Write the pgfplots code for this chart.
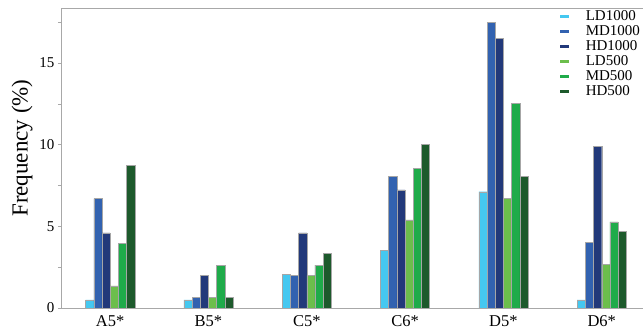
\documentclass[border=0pt]{standalone}
\usepackage{pgfplots}
\pgfplotsset{compat=1.18}
\usepackage{fontspec}
\setmainfont{Liberation Serif}
\definecolor{cLDa}{HTML}{45C8F0}
\definecolor{cMDa}{HTML}{3262B0}
\definecolor{cHDa}{HTML}{22397A}
\definecolor{cLDb}{HTML}{6CBE4C}
\definecolor{cMDb}{HTML}{1FAB4A}
\definecolor{cHDb}{HTML}{1D5A2C}
\definecolor{axgray}{HTML}{A8A8A8}
\begin{document}
\begin{tikzpicture}
\begin{axis}[
  scale only axis, width=582pt, height=300pt,
  at={(0,0)}, anchor=south west,
  xmin=-0.5, xmax=5.42, ymin=0, ymax=18.37,
  axis x line*=bottom, axis y line*=left,
  axis line style={axgray, line width=0.8pt},
  ybar, bar width=8.2pt,
  xtick={0,1,2,3,4,5},
  xticklabels={A5*,B5*,C5*,C6*,D5*,D6*},
  x tick style={draw=none},
  ytick={0,5,10,15}, minor ytick={2.5,7.5,12.5,17.5},
  y tick style={axgray, line width=0.6pt},
  tick align=outside, major tick length=3pt, minor tick length=3pt,
  /pgf/number format/assume math mode=true,
  ticklabel style={font=\fontsize{15}{15}\selectfont},
  xticklabel style={font=\fontsize{16.5}{16.5}\selectfont, yshift=-1pt},
  ylabel={Frequency (\%)},
  ylabel style={font=\fontsize{23}{23}\selectfont, at={(ticklabel cs:0.533)}},
  legend style={at={(rel axis cs:0.855,0.997)}, anchor=north west, draw=none, fill=none,
    inner sep=0pt,
    nodes={font=\fontsize{15}{15}\selectfont, inner sep=0pt, text height=11pt, text depth=4pt, anchor=west},
    /tikz/every odd column/.append style={column sep=15pt}},
  legend image code/.code={\draw[line width=3pt, #1] (0pt,0pt) -- (9pt,0pt);},
  legend cell align=left,
  after end axis/.code={\draw[axgray, line width=0.8pt] (rel axis cs:0,1) -- (rel axis cs:1,1);},
]
\addlegendimage{cLDa}
\addlegendimage{cMDa}
\addlegendimage{cHDa}
\addlegendimage{cLDb}
\addlegendimage{cMDb}
\addlegendimage{cHDb}
\addplot[forget plot, bar shift=-20.5pt, fill=cLDa, draw=gray!70, line width=0.4pt] coordinates {(0,0.49) (1,0.49) (2,2.04) (3,3.55) (4,7.12) (5,0.49)};
\addplot[forget plot, bar shift=-12.3pt, fill=cMDa, draw=gray!70, line width=0.4pt] coordinates {(0,6.70) (1,0.65) (2,2.00) (3,8.08) (4,17.5) (5,4.02)};
\addplot[forget plot, bar shift=-4.1pt, fill=cHDa, draw=gray!70, line width=0.4pt] coordinates {(0,4.60) (1,1.98) (2,4.60) (3,7.24) (4,16.5) (5,9.90)};
\addplot[forget plot, bar shift=4.1pt, fill=cLDb, draw=gray!70, line width=0.4pt] coordinates {(0,1.35) (1,0.65) (2,2.00) (3,5.39) (4,6.72) (5,2.67)};
\addplot[forget plot, bar shift=12.3pt, fill=cMDb, draw=gray!70, line width=0.4pt] coordinates {(0,3.94) (1,2.63) (2,2.63) (3,8.57) (4,12.53) (5,5.28)};
\addplot[forget plot, bar shift=20.5pt, fill=cHDb, draw=gray!70, line width=0.4pt] coordinates {(0,8.72) (1,0.65) (2,3.35) (3,10.0) (4,8.04) (5,4.70)};
\legend{LD1000,MD1000,HD1000,LD500,MD500,HD500}
\end{axis}
\pgfresetboundingbox
\path (-61pt,-26pt) rectangle (582pt,308pt);
\end{tikzpicture}
\end{document}
